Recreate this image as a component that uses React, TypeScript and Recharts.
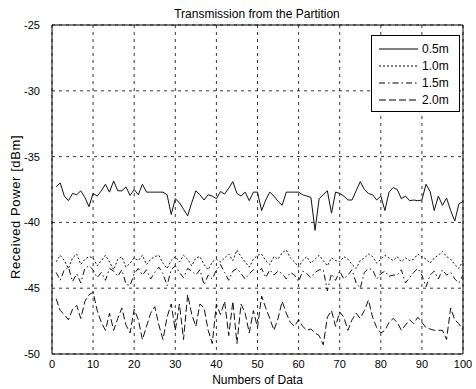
import React from 'react';
import { LineChart, Line, XAxis, YAxis, CartesianGrid, Legend, Label } from 'recharts';

const seriesNames = ['0.5m', '1.0m', '1.5m', '2.0m'];
const xTicks = [0, 10, 20, 30, 40, 50, 60, 70, 80, 90, 100];
const yTicks = [-50, -45, -40, -35, -30, -25];

const p05 = [
  -37.3, -37.0, -38.0, -38.35, -37.8, -37.9, -37.6, -38.1, -38.8, -37.8,
  -38.0, -37.6, -37.1, -37.7, -36.85, -37.6, -37.6, -37.3, -37.95, -37.5,
  -37.9, -37.1, -37.7, -37.7, -37.7, -37.7, -37.7, -37.9, -39.4, -38.2,
  -38.5, -39.0, -39.5, -38.5, -37.6, -37.9, -38.3, -37.9, -38.0, -38.2,
  -37.65, -37.85, -37.4, -36.9, -37.8, -38.0, -37.7, -38.35, -37.7, -37.7,
  -39.1, -38.3, -37.7, -38.0, -38.4, -38.7, -37.7, -37.7, -37.7, -37.7,
  -37.9, -38.0, -38.1, -40.6, -38.2, -37.9, -37.6, -39.3, -37.7, -37.8,
  -38.0, -38.3, -38.3, -37.6, -36.9, -37.5, -37.8, -37.9, -38.3, -38.0,
  -39.1, -37.7, -37.35, -37.5, -38.2, -38.0, -38.35, -38.3, -38.35, -38.3,
  -37.1, -37.65, -39.1, -38.0, -38.7, -38.15, -39.1, -39.9, -38.6, -38.4,
];

const p10 = [
  -43.0, -42.5, -42.9, -43.5, -42.7, -42.4, -43.2, -42.8, -42.6, -42.7,
  -43.3, -42.9, -42.5, -43.0, -43.6, -42.8, -42.6, -43.4, -43.1, -42.7,
  -42.9, -42.5, -43.2, -42.8, -42.6, -42.5, -43.1, -43.5, -42.9, -42.6,
  -43.0, -42.5, -42.8, -43.3, -42.7, -42.6, -43.2, -43.6, -43.0, -42.8,
  -43.0, -42.7, -42.4, -42.9, -42.1, -42.6, -43.0, -43.4, -42.8, -42.5,
  -42.4, -42.9, -43.2, -42.6, -42.8, -42.3, -42.1, -42.7, -43.0, -43.4,
  -42.9, -42.6, -43.1, -42.8, -42.5, -42.9, -43.3, -42.7, -42.9, -43.0,
  -42.6, -42.8, -43.2, -43.5, -42.9, -42.7, -42.4, -42.6, -43.1, -42.8,
  -42.5, -42.7, -42.9, -42.6, -43.0, -42.7, -42.9, -42.8, -42.4, -42.6,
  -42.8, -43.1, -42.7, -42.5, -42.2, -42.6, -42.8, -43.2, -43.5, -42.9,
];

const p15 = [
  -43.8, -44.4, -43.6, -43.4, -44.5, -43.9, -44.6, -43.5, -43.3, -43.6,
  -44.2, -43.8, -44.4, -43.5, -43.7, -44.1, -43.6, -44.7, -44.8, -43.9,
  -43.5, -44.0, -43.6, -44.3, -43.8, -43.4, -43.9, -44.8, -43.6, -43.3,
  -43.8, -44.2, -43.5, -43.7, -44.0, -43.6, -44.75, -44.0, -44.3, -43.6,
  -43.2, -43.8, -44.4, -43.7, -43.5, -43.9, -44.3, -43.9, -43.6, -43.8,
  -43.5, -44.2, -43.6, -44.0, -43.7, -43.9, -44.3, -43.8, -44.0, -44.5,
  -43.7, -43.9, -44.2, -43.8, -43.6, -43.6, -45.2, -43.9, -44.4, -43.7,
  -44.3, -44.0, -43.6, -44.6, -45.0, -43.8, -43.5, -43.6, -44.3, -43.9,
  -43.7, -44.1, -44.0, -44.0, -43.6, -44.6, -44.2, -43.8, -43.5, -44.0,
  -44.9, -44.0, -43.7, -44.3, -43.6, -44.0, -43.8, -44.3, -44.6, -44.0,
];

const p20 = [
  -45.8, -46.7, -47.0, -47.4, -46.6, -46.3, -47.3, -46.0, -45.5, -45.3,
  -46.7, -47.6, -48.2, -46.9, -48.2, -47.3, -46.5, -47.8, -48.4, -46.6,
  -47.4, -48.9, -47.9, -46.9, -46.4, -47.8, -48.9, -47.2, -46.2, -48.2,
  -46.2, -48.9, -45.5, -47.0, -47.9, -46.2, -46.5, -48.2, -49.2, -46.2,
  -47.0, -46.0, -48.6, -46.0, -49.2, -46.2, -46.9, -48.4, -46.7, -48.0,
  -45.6, -46.5, -47.3, -48.2, -47.3, -46.0, -46.9, -47.6, -47.9, -47.4,
  -47.9, -48.2, -48.1, -48.4, -48.6, -49.3, -47.2, -46.7, -47.9, -46.8,
  -47.2, -48.2, -47.4, -46.9, -47.3, -46.7, -45.9, -47.2, -48.0, -48.4,
  -48.2, -47.6, -47.3, -47.6, -48.2, -47.8, -47.4, -47.7, -47.2, -47.6,
  -48.0, -48.1, -48.2, -48.2, -48.2, -48.9, -46.5, -47.4, -47.7, -48.2,
];

const keys = ['s05', 's10', 's15', 's20'];
const dashes = ['', '2 2', '6 3 1.5 3', '7 3'];
const FONT = '"Liberation Sans", Arial, Helvetica, sans-serif';

const data = p05.map((v, i) => ({ n: i + 1, s05: v, s10: p10[i], s15: p15[i], s20: p20[i] }));

const LegendBox = () => (
  <svg width={89} height={77} style={{ display: 'block' }}>
    <rect x={0.5} y={0.5} width={88} height={76} fill="#fff" stroke="#000" strokeWidth={1} />
    {seriesNames.map((name, i) => (
      <g key={name}>
        <line x1={8} x2={47} y1={14 + i * 17} y2={14 + i * 17} stroke="#000" strokeWidth={1} strokeDasharray={dashes[i] || undefined} />
        <text x={51} y={14 + i * 17} dominantBaseline="central" fontSize={12} fontFamily={FONT} fill="#000">
          {name}
        </text>
      </g>
    ))}
  </svg>
);

export default function App() {
  return (
    <div style={{ position: 'absolute', left: 0, top: 0, width: 476, height: 389, background: '#fff' }}>
      <LineChart width={476} height={389} data={data} margin={{ top: 0, right: 0, bottom: 0, left: 0 }}>
        <CartesianGrid stroke="#000" strokeDasharray="3 4" strokeWidth={0.8} />
        <XAxis
          dataKey="n"
          type="number"
          domain={[0, 100]}
          ticks={xTicks}
          height={35}
          tickLine={false}
          tickSize={6}
          tickMargin={0}
          axisLine={{ stroke: '#000' }}
          tick={{ fontSize: 11, fill: '#000', fontFamily: FONT }}
          interval={0}
        >
          <Label
            content={() => (
              <text x={257.5} y={384} textAnchor="middle" fontSize={12} fontFamily={FONT} fill="#000">
                Numbers of Data
              </text>
            )}
          />
        </XAxis>
        <XAxis
          xAxisId="top"
          orientation="top"
          dataKey="n"
          type="number"
          domain={[0, 100]}
          height={25}
          tick={false}
          tickLine={false}
          axisLine={{ stroke: '#000' }}
        >
          <Label
            content={() => (
              <text x={257} y={18} textAnchor="middle" fontSize={12} fontFamily={FONT} fill="#000">
                Transmission from the Partition
              </text>
            )}
          />
        </XAxis>
        <YAxis
          type="number"
          domain={[-50, -25]}
          ticks={yTicks}
          width={52}
          tickLine={false}
          tickSize={6}
          tickMargin={6}
          axisLine={{ stroke: '#000' }}
          tick={{ fontSize: 11, fill: '#000', fontFamily: FONT }}
          interval={0}
        >
          <Label
            content={() => (
              <text
                transform="translate(20,207) rotate(-90)"
                textAnchor="middle"
                fontSize={13}
                letterSpacing={0.6}
                fontFamily={FONT}
                fill="#000"
              >
                Received Power [dBm]
              </text>
            )}
          />
        </YAxis>
        <YAxis
          yAxisId="right"
          orientation="right"
          type="number"
          domain={[-50, -25]}
          width={13}
          tick={false}
          tickLine={false}
          axisLine={{ stroke: '#000' }}
        />
        <Legend
          layout="vertical"
          align="center"
          verticalAlign="middle"
          wrapperStyle={{ left: 371, top: 35, width: 89, height: 77 }}
          content={() => <LegendBox />}
        />
        {keys.map((k, i) => (
          <Line
            key={k}
            dataKey={k}
            name={seriesNames[i]}
            type="linear"
            stroke="#111"
            strokeWidth={1}
            strokeDasharray={dashes[i] || undefined}
            dot={false}
            activeDot={false}
            isAnimationActive={false}
          />
        ))}
      </LineChart>
    </div>
  );
}
